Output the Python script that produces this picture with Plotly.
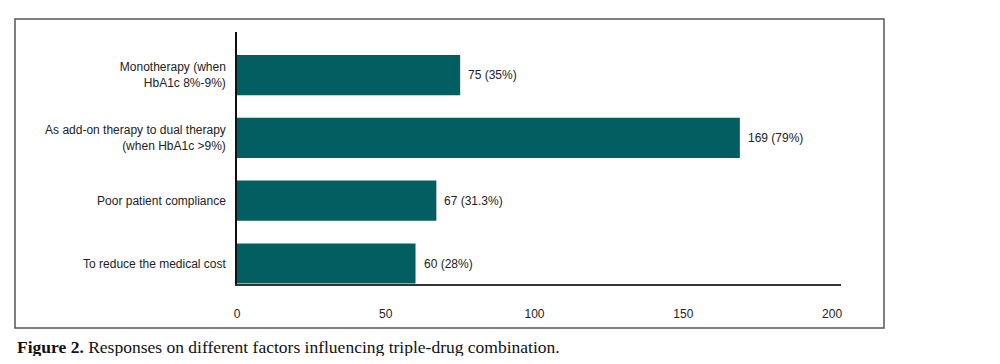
import plotly.graph_objects as go

categories = ["To reduce the medical cost", "Poor patient compliance",
              "As add-on therapy to dual therapy<br>(when HbA1c >9%)",
              "Monotherapy (when<br>HbA1c 8%-9%)"]
counts = [60, 67, 169, 75]
labels = ["60 (28%)", "67 (31.3%)", "169 (79%)", "75 (35%)"]
x_ticks = [0, 50, 100, 150, 200]

BAR = "#025E60"
OFF = 8  # default page body margin
W, H = 1000 - 2 * OFF, 364 - 2 * OFF
L, T = 237 - OFF, 32 - OFF
R = W - (841 - OFF)
B = H - (284 - OFF)
pw, ph = W - L - R, H - T - B


def px(x):
    return (x - OFF - L) / pw


def py(y):
    return (H - B - (y - OFF)) / ph


fig = go.Figure()
fig.add_trace(go.Bar(
    y=categories, x=counts, orientation="h",
    marker=dict(color=BAR, line=dict(width=0)),
    width=0.64, hoverinfo="skip",
))

annos = [dict(x=c, y=cat, text=t, xanchor="left", yanchor="middle", xshift=6,
              showarrow=False,
              font=dict(family="Liberation Sans, Arial", size=12, color="#222"))
         for c, cat, t in zip(counts, categories, labels)]
annos.append(dict(xref="paper", yref="paper", x=px(15), y=py(347),
                  xanchor="left", yanchor="middle", showarrow=False,
                  text="<b>Figure 2.</b> Responses on different factors influencing triple-drug combination.",
                  font=dict(family="Liberation Serif, serif", size=17.5, color="#111")))

fig.update_layout(
    width=W, height=H,
    margin=dict(l=L, r=R, t=T, b=B, pad=0),
    paper_bgcolor="white", plot_bgcolor="white",
    showlegend=False,
    font=dict(family="Liberation Sans, Arial", size=12, color="#222"),
    xaxis=dict(range=[0, 203], tickvals=x_ticks, showgrid=False, zeroline=False,
               showline=True, linecolor="#333", linewidth=2, ticks="",
               ticklabelstandoff=18, tickfont=dict(size=12, color="#222"),
               fixedrange=True),
    yaxis=dict(range=[-0.326, 3.685], showgrid=False, zeroline=False,
               showline=True, linecolor="#111", linewidth=1.5, ticks="",
               ticklabelstandoff=7, tickfont=dict(size=12, color="#222"),
               fixedrange=True),
    shapes=[dict(type="rect", xref="paper", yref="paper",
                 x0=px(15), x1=px(884), y0=py(328), y1=py(19),
                 line=dict(color="#555", width=1.5), fillcolor="rgba(0,0,0,0)",
                 layer="below")],
    annotations=annos,
)

fig.write_html("out.html")
